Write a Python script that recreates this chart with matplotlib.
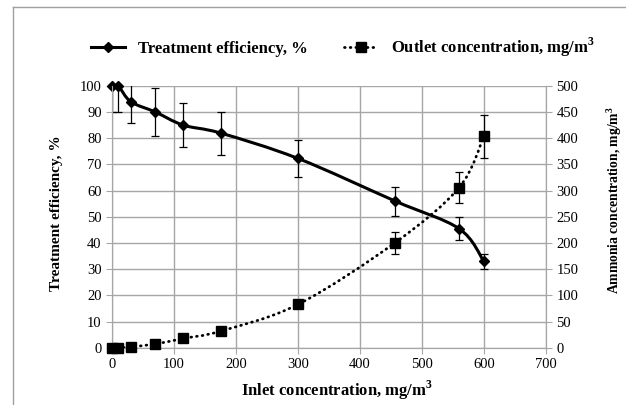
import matplotlib
matplotlib.use('Agg')
import matplotlib.pyplot as plt
import numpy as np
from matplotlib.path import Path
from matplotlib.patches import PathPatch
from matplotlib.lines import Line2D

# data
inlet = [0, 10, 30, 70, 115, 175, 300, 457, 560, 600]
efficiency = [100, 100, 94, 90, 85, 82, 72.3, 56, 45.5, 33]
efficiency_err = [10, 10, 8, 9, 8.5, 8.2, 7, 5.5, 4.5, 3]
outlet = [0, 0, 2, 7.5, 18, 32, 83, 201, 306, 404]
outlet_err = [0, 0, 0, 0, 0, 0, 0, 21, 30, 41]

plt.rcParams['font.family'] = ['Liberation Serif', 'DejaVu Serif']
plt.rcParams['mathtext.fontset'] = 'custom'
plt.rcParams['mathtext.rm'] = 'Liberation Serif'
plt.rcParams['mathtext.bf'] = 'Liberation Serif:bold'

grid_c = '#a6a6a6'
dots = (0, (0.25, 1.8))


def smooth_path(xs, ys):
    # excel-like smoothed line: catmull-rom segments as cubic beziers
    pts = np.column_stack([xs, ys]).astype(float)
    n = len(pts)
    verts = [pts[0]]
    codes = [Path.MOVETO]
    for i in range(n - 1):
        p0 = pts[max(i - 1, 0)]
        p1 = pts[i]
        p2 = pts[i + 1]
        p3 = pts[min(i + 2, n - 1)]
        verts += [p1 + (p2 - p0) / 6, p2 - (p3 - p1) / 6, p2]
        codes += [Path.CURVE4] * 3
    return Path(verts, codes)


fig = plt.figure(figsize=(6.26, 4.05), dpi=100)
ax = fig.add_axes([0.179, 0.141, 0.693, 0.647])
ax2 = ax.twinx()

ax.set_xlim(0, 700)
ax.set_ylim(0, 100)
ax2.set_ylim(0, 500)
ax.set_xticks(np.arange(0, 701, 100))
ax.set_yticks(np.arange(0, 101, 10))
ax2.set_yticks(np.arange(0, 501, 50))
ax.grid(True, color=grid_c, lw=1)
ax.set_axisbelow(True)

for a in (ax, ax2):
    for s in a.spines.values():
        s.set_color(grid_c)
    a.spines['top'].set_visible(False)
    a.tick_params(colors=grid_c, labelcolor='black', labelsize=10.5, length=4)

# efficiency (left axis)
p1 = PathPatch(smooth_path(inlet, efficiency), fill=False, lw=2.2, ec='black', zorder=3)
ax.add_patch(p1)
ax.errorbar(inlet, efficiency, yerr=efficiency_err, fmt='none',
            ecolor='black', elinewidth=0.9, capsize=3, capthick=0.9, zorder=4)
ax.plot(inlet, efficiency, 'D', color='black', ms=5.5, zorder=5, clip_on=False)

# outlet concentration (right axis)
p2 = PathPatch(smooth_path(inlet, outlet), fill=False, lw=2.0, ec='black',
               ls=dots, zorder=3)
p2.set_capstyle('round')
ax2.add_patch(p2)
ax2.errorbar(inlet, outlet, yerr=outlet_err, fmt='none',
             ecolor='black', elinewidth=0.9, capsize=3, capthick=0.9, zorder=4)
ax2.plot(inlet, outlet, 's', color='black', ms=7.5, zorder=5, clip_on=False)

ax.set_xlabel('Inlet concentration, mg/m$^{\\mathbf{3}}$', fontsize=12, fontweight='bold')
ax.set_ylabel('Treatment efficiency, %', fontsize=11, fontweight='bold')
ax2.set_ylabel('Ammonia concentration, mg/m$^{\\mathbf{3}}$', fontsize=9.8, fontweight='bold')
ax.xaxis.set_label_coords(0.518, -0.116)
ax.yaxis.set_label_coords(-0.114, 0.515)
ax2.yaxis.set_label_coords(1.135, 0.565)

handles = [
    Line2D([], [], color='black', lw=2.2, marker='D', ms=5.5),
    Line2D([], [], color='black', lw=2.0, ls=dots, marker='s', ms=7,
           dash_capstyle='round'),
]
labels = ['Treatment efficiency, %', 'Outlet concentration, mg/m$^{\\mathbf{3}}$']
fig.legend(handles, labels, loc='center', bbox_to_anchor=(0.548, 0.882), ncol=2,
           frameon=False, handlelength=2.0, columnspacing=2.2,
           prop={'weight': 'bold', 'size': 12})

# chart border (left and top)
fig.add_artist(Line2D([0.02, 0.02], [0, 0.983], color='#a0a0a0', lw=1))
fig.add_artist(Line2D([0.02, 1], [0.983, 0.983], color='#a0a0a0', lw=1))

fig.savefig('out.png', dpi=100)
